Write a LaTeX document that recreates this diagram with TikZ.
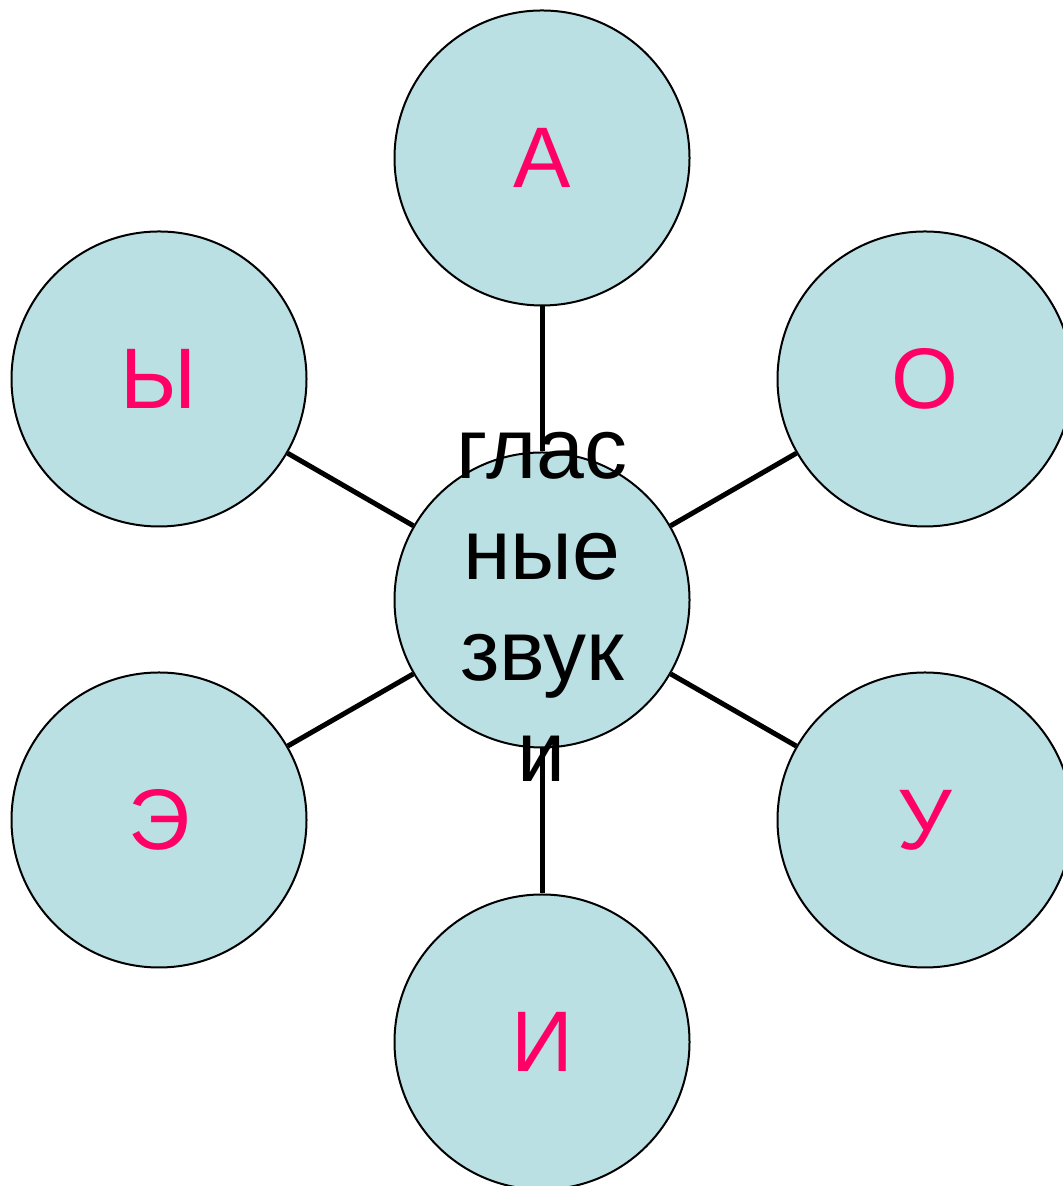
\documentclass[tikz,border=0pt]{standalone}
\usepackage{fontspec}
\setmainfont{Liberation Sans}
\usetikzlibrary{shapes,positioning}
\definecolor{vowelfill}{RGB}{186,224,227}
\definecolor{vowelpink}{RGB}{255,0,102}
\tikzstyle{vowel} = [circle, draw, fill=vowelfill, line width=1pt,
    minimum size=147.5pt, inner sep=0pt, text=vowelpink, font=\fontsize{43}{50}\selectfont]
\tikzstyle{heading} = [align=center, inner sep=0pt, text=black,
    font=\fontsize{43}{50.5}\selectfont]
\tikzstyle{spoke} = [draw, line width=2.5pt]

\begin{document}
\begin{tikzpicture}[x=0.5pt, y=0.5pt]
    \useasboundingbox (0,0) rectangle (1063,1186);
    \node[vowel] (centre) at (542,586) {};
    \node[vowel] (a) at (542,1028) {А};
    \node[vowel] (o) at (925,807) {О};
    \node[vowel] (u) at (925,366) {У};
    \node[vowel] (i) at (542,144) {И};
    \node[vowel] (e) at (159,366) {Э};
    \node[vowel] (y) at (159,807) {Ы};

    \path[spoke] (centre) -- (a);
    \path[spoke] (centre) -- (o);
    \path[spoke] (centre) -- (u);
    \path[spoke] (centre) -- (i);
    \path[spoke] (centre) -- (e);
    \path[spoke] (centre) -- (y);

    \node[heading] (title) at ([yshift=-3.5pt]centre) {глас\\ные\\звук\\и};
\end{tikzpicture}
\end{document}
